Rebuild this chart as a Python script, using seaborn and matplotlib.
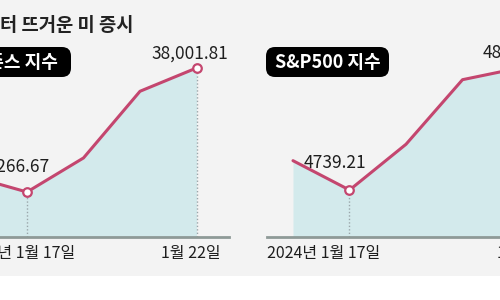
import matplotlib
matplotlib.use("Agg")
import matplotlib.pyplot as plt
import seaborn as sns
import pandas as pd
from matplotlib.patches import Rectangle, FancyBboxPatch
from matplotlib.transforms import IdentityTransform

# ---- data ----
dates = ["1월 16일", "1월 17일", "1월 18일", "1월 19일", "1월 22일"]
dow = [37361.12, 37266.67, 37468.61, 37863.80, 38001.81]
sp500 = [4765.98, 4739.21, 4780.94, 4839.81, 4850.43]
title = "터 뜨거운 미 증시"
panel_names = ["다우존스 지수", "S&P500 지수"]
start_label = "2024년 1월 17일"
end_label = "1월 22일"
dow_value_labels = ["37,266.67", "38,001.81"]
sp_value_labels = ["4739.21", "4850.43"]
marked = [1, 4]  # indices with open markers / dotted drops

sns.set_theme(style="white")
FONT = ["Noto Sans CJK KR", "DejaVu Sans"]
plt.rcParams["font.family"] = FONT

W, H = 500, 300
PT = 0.72  # points per pixel at 100 dpi
fig = plt.figure(figsize=(5, 3), dpi=100)
fig.patch.set_facecolor("white")
fig.add_artist(Rectangle((0, 1 - 276 / H), 1, 276 / H, transform=fig.transFigure,
                         facecolor="#f3f3f3", edgecolor="none", zorder=-10))

LINE = "#c4466f"
FILL = "#d3eaec"
AXIS = "#8e9a97"
DOT = "#9aa6aa"
TXT = "#1e1e1e"


def px_axes(left, right, top, bottom):
    return fig.add_axes([left / W, 1 - bottom / H, (right - left) / W, (bottom - top) / H])


def panel(ax, values, ylim, labels, lab_cfg, start_cfg, end_cfg):
    df = pd.DataFrame({"idx": range(len(dates)), "date": dates, "v": values})
    ax.set_facecolor("none")
    ax.fill_between(df["idx"], df["v"], ylim[0], color=FILL, lw=0, zorder=1)
    sns.lineplot(data=df, x="idx", y="v", ax=ax, color=LINE, lw=2.2, zorder=3)
    for i in marked:
        ax.vlines(i, ylim[0], values[i], colors=DOT, linestyles=(0, (1, 1.5)), lw=1, zorder=2)
    ax.scatter(df["idx"].iloc[marked], df["v"].iloc[marked], s=38, facecolor="white",
               edgecolor=LINE, linewidth=1.6, zorder=5)
    for i, lab, (ha, dx, dy) in zip(marked, labels, lab_cfg):
        ax.annotate(lab, xy=(i, values[i]), xytext=(dx * PT, dy * PT), textcoords="offset points",
                    ha=ha, va="bottom", fontsize=12.5, color=TXT)
    ax.set_xlim(-0.46, 4.566)
    ax.set_ylim(*ylim)
    ax.set_xticks([])
    ax.set_yticks([])
    ax.set_xlabel("")
    ax.set_ylabel("")
    for s in ["top", "right", "left"]:
        ax.spines[s].set_visible(False)
    ax.spines["bottom"].set_color(AXIS)
    ax.spines["bottom"].set_linewidth(2)
    # date labels
    mode, ha, dx = start_cfg
    if mode == "data":
        ax.annotate(start_label, xy=(1, ylim[0]), xytext=(dx * PT, -6), textcoords="offset points",
                    ha=ha, va="top", fontsize=11.5, color=TXT)
    else:
        ax.annotate(start_label, xy=(0, 0), xycoords="axes fraction", xytext=(dx * PT, -6),
                    textcoords="offset points", ha=ha, va="top", fontsize=11.5, color=TXT)
    ha, dx = end_cfg
    ax.annotate(end_label, xy=(4, ylim[0]), xytext=(dx * PT, -6), textcoords="offset points",
                ha=ha, va="top", fontsize=11.5, color=TXT)


ax1 = px_axes(-55.5, 228.5, 30, 237)
panel(ax1, dow, (37000, 38227), dow_value_labels,
      [("right", 23, 16), ("right", 32, 5)],
      ("data", "right", 48), ("right", 24))

ax2 = px_axes(267, 551, 30, 237)
panel(ax2, sp500, (4696.4, 4885.1), sp_value_labels,
      [("right", 17, 18), ("left", -36, 6)],
      ("axes", "left", 0), ("left", -22))

# title
fig.text(0 / W, 1 - 31 / H, title, fontsize=13.5, fontweight="bold", color="#222222",
         ha="left", va="baseline")

# pills
bw, bh = 123, 30
y0 = H - 77
for (x0, name, ha, tx) in [(-52, panel_names[0], "right", 58),
                           (266, panel_names[1], "center", 266 + bw / 2)]:
    fig.add_artist(FancyBboxPatch((x0, y0), bw, bh, boxstyle="round,pad=0,rounding_size=9",
                                  transform=IdentityTransform(), facecolor="black",
                                  edgecolor="none", zorder=4))
    fig.text(tx / W, (y0 + bh / 2 - 1) / H, name, ha=ha, va="center",
             fontsize=13, fontweight="bold", color="white", zorder=5)

fig.savefig("out.png", dpi=100, facecolor="white")
